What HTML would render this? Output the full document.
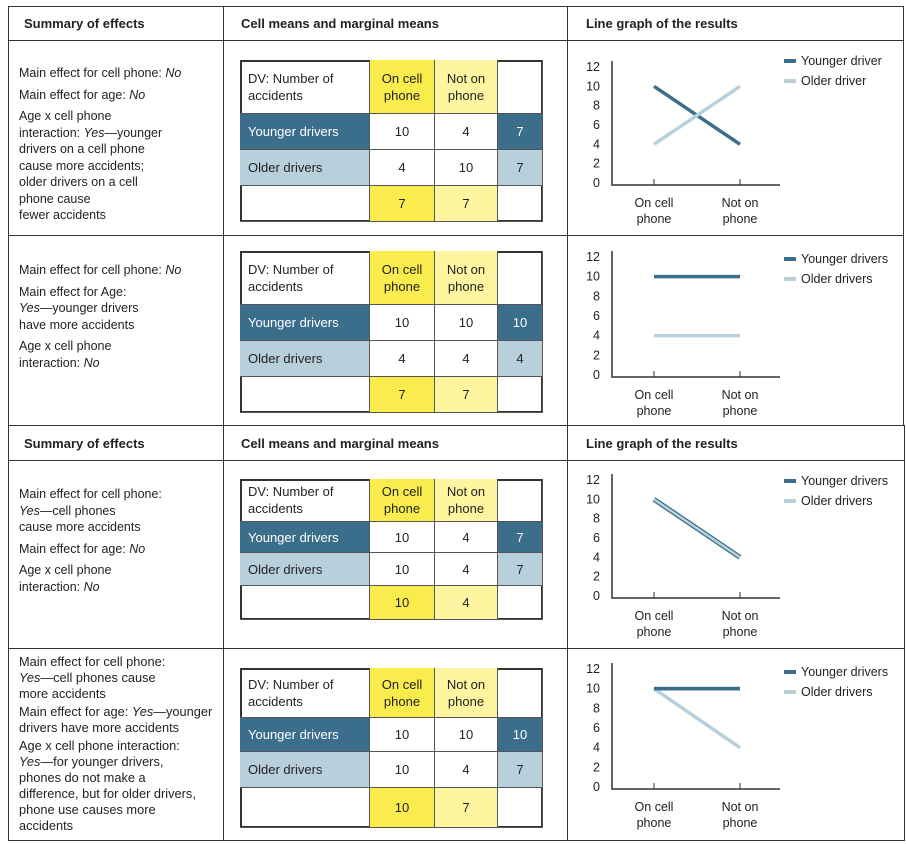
<!DOCTYPE html>
<html><head><meta charset="utf-8">
<style>
body{margin:0;width:906px;height:844px;background:#fff;font-family:"Liberation Sans",sans-serif;color:#222;position:relative;overflow:hidden}
.a{position:absolute}
.ln{position:absolute;background:#333}
.hd{position:absolute;font-weight:bold;font-size:13px}
.sum{position:absolute;left:19px;font-size:12.5px;line-height:16.5px;width:205px}
.sum p{margin:0 0 5px 0}
.s4{line-height:16px;font-size:12.8px;width:210px}
.s4 p{margin:0 0 2px 0}
.tb{position:absolute;border:2px solid #333;box-sizing:border-box}
.c{position:absolute;box-sizing:border-box;font-size:13px;display:flex;align-items:center;justify-content:center;text-align:center;border-right:1px solid #555;border-bottom:1px solid #555;line-height:17px}
.l{justify-content:flex-start;padding-left:8px;text-align:left}
.dk{background:#3b6e8a;color:#fff}.lt{background:#b8cfdc}.y1{background:#f9ec4c}.y2{background:#fdf5a0}
svg text{font-family:"Liberation Sans",sans-serif;font-size:12.5px;fill:#222}
</style></head><body>
<div class="ln" style="left:8px;top:6px;width:896px;height:1px"></div>
<div class="ln" style="left:8px;top:40px;width:896px;height:1px"></div>
<div class="ln" style="left:8px;top:235px;width:896px;height:1px"></div>
<div class="ln" style="left:8px;top:425px;width:897px;height:1px"></div>
<div class="ln" style="left:8px;top:460px;width:897px;height:1px"></div>
<div class="ln" style="left:8px;top:648px;width:897px;height:1px"></div>
<div class="ln" style="left:8px;top:840px;width:897px;height:1px"></div>
<div class="ln" style="left:8px;top:6px;width:1px;height:835px"></div>
<div class="ln" style="left:223px;top:6px;width:1px;height:835px"></div>
<div class="ln" style="left:567px;top:6px;width:1px;height:835px"></div>
<div class="ln" style="left:903px;top:6px;width:1px;height:420px"></div>
<div class="ln" style="left:904px;top:425px;width:1px;height:416px"></div>

<div class="hd" style="left:24px;top:16px">Summary of effects</div>
<div class="hd" style="left:241px;top:16px">Cell means and marginal means</div>
<div class="hd" style="left:586px;top:16px">Line graph of the results</div>
<div class="hd" style="left:24px;top:436px">Summary of effects</div>
<div class="hd" style="left:241px;top:436px">Cell means and marginal means</div>
<div class="hd" style="left:586px;top:436px">Line graph of the results</div>

<div class="sum" style="top:65px">
<p>Main effect for cell phone: <i>No</i></p><p>Main effect for age: <i>No</i></p>
<p>Age x cell phone<br>interaction: <i>Yes</i>—younger<br>drivers on a cell phone<br>cause more accidents;<br>older drivers on a cell<br>phone cause<br>fewer accidents</p></div>
<div class="sum" style="top:262px">
<p>Main effect for cell phone: <i>No</i></p><p>Main effect for Age:<br><i>Yes</i>—younger drivers<br>have more accidents</p><p>Age x cell phone<br>interaction: <i>No</i></p></div>
<div class="sum" style="top:486px">
<p>Main effect for cell phone:<br><i>Yes</i>—cell phones<br>cause more accidents</p><p>Main effect for age: <i>No</i></p><p>Age x cell phone<br>interaction: <i>No</i></p></div>
<div class="sum s4" style="top:654px">
<p>Main effect for cell phone:<br><i>Yes</i>—cell phones cause<br>more accidents</p><p>Main effect for age: <i>Yes</i>—younger<br>drivers have more accidents</p><p>Age x cell phone interaction:<br><i>Yes</i>—for younger drivers,<br>phones do not make a<br>difference, but for older drivers,<br>phone use causes more<br>accidents</p></div>

<div id="root"></div>
<script>
const panelYoung = [[10,4],[10,10],[10,4],[10,10]];
const panelOld = [[4,10],[4,4],[10,4],[10,4]];
const rowMargYoung = [7,10,7,10];
const rowMargOld = [7,4,7,7];
const colMarg = [[7,7],[7,7],[10,4],[10,7]];
const legendYoung = ["Younger driver","Younger drivers","Younger drivers","Younger drivers"];
const legendOld = ["Older driver","Older drivers","Older drivers","Older drivers"];
const yTicks = [0,2,4,6,8,10,12];
const categories = ["On cell|phone","Not on|phone"];

const tables = [[60,114,150,186,222],[251,305,341,377,413],[479,522,553,586,620],[668,718,752,788,828]];
const charts = [[67,183,61],[257,375,259],[480,596,481],[669,787,672]];
const xs=[240,370,435,498,543];
const root=document.getElementById('root');
function cell(x,y,w,h,cls,html,name){
  const d=document.createElement('div');d.className='c '+cls;
  d.style.cssText=`left:${x}px;top:${y}px;width:${w}px;height:${h}px`;
  d.innerHTML=html;
  
  
  root.appendChild(d);
}
for(let i=0;i<4;i++){
  const r=tables[i];
  const t=document.createElement('div');t.className='tb';
  t.style.cssText=`left:${xs[0]}px;top:${r[0]}px;width:${xs[4]-xs[0]}px;height:${r[4]-r[0]}px`;
  
  
  root.appendChild(t);
  const W=k=>xs[k+1]-xs[k], H=k=>r[k+1]-r[k];
  cell(xs[0],r[0],W(0),H(0),'l','DV: Number of<br>accidents','dv-label');
  cell(xs[1],r[0],W(1),H(0),'y1','On cell<br>phone','col-on-phone');
  cell(xs[2],r[0],W(2),H(0),'y2','Not on<br>phone','col-not-on-phone');
  cell(xs[3],r[0],W(3),H(0),'','','blank');
  cell(xs[0],r[1],W(0),H(1),'l dk','Younger drivers','row-younger');
  cell(xs[1],r[1],W(1),H(1),'',panelYoung[i][0],'cell-value');
  cell(xs[2],r[1],W(2),H(1),'',panelYoung[i][1],'cell-value');
  cell(xs[3],r[1],W(3),H(1),'dk',rowMargYoung[i],'row-marginal');
  cell(xs[0],r[2],W(0),H(2),'l lt','Older drivers','row-older');
  cell(xs[1],r[2],W(1),H(2),'',panelOld[i][0],'cell-value');
  cell(xs[2],r[2],W(2),H(2),'',panelOld[i][1],'cell-value');
  cell(xs[3],r[2],W(3),H(2),'lt',rowMargOld[i],'row-marginal');
  cell(xs[0],r[3],W(0),H(3),'','','blank');
  cell(xs[1],r[3],W(1),H(3),'y1',colMarg[i][0],'col-marginal');
  cell(xs[2],r[3],W(2),H(3),'y2',colMarg[i][1],'col-marginal');
  cell(xs[3],r[3],W(3),H(3),'','','blank');
}
const NS='http://www.w3.org/2000/svg';
const svg=document.createElementNS(NS,'svg');
svg.setAttribute('width','906');svg.setAttribute('height','844');
svg.style.cssText='position:absolute;left:0;top:0';


root.appendChild(svg);
function el(tag,attrs,txt){const e=document.createElementNS(NS,tag);for(const k in attrs)e.setAttribute(k,attrs[k]);if(txt!==undefined)e.textContent=txt;svg.appendChild(e);return e;}
const catX=[654,740];
for(let i=0;i<4;i++){
  const [y12,y0,ly]=charts[i];
  const yS=v=>y0-(v/12)*(y0-y12);
  const xS=k=>catX[k];
  const ax=el('path',{d:`M612 ${y12-6}V${y0+2}H780`,stroke:'#333','stroke-width':1.5,fill:'none'});
  
  
  yTicks.forEach(v=>{const t=el('text',{x:600,y:yS(v)+4,'text-anchor':'end'},v);
    
    });
  categories.forEach((c,k)=>{
    el('line',{x1:xS(k),x2:xS(k),y1:y0-4,y2:y0+2,stroke:'#333'});
    const p=c.split('|');
    const t1=el('text',{x:xS(k),y:y0+24,'text-anchor':'middle'},p[0]);
    
    
    const t2=el('text',{x:xS(k),y:y0+40,'text-anchor':'middle'},p[1]);
    
    
  });
  const ly2=el('line',{x1:xS(0),y1:yS(panelYoung[i][0]),x2:xS(1),y2:yS(panelYoung[i][1]),stroke:'#3b6e8a','stroke-width':i==2?5:3.5});
  
  
  const lo=el('line',{x1:xS(0),y1:yS(panelOld[i][0]),x2:xS(1),y2:yS(panelOld[i][1]),stroke:'#b8cfdc','stroke-width':i==2?2.5:3.5});
  
  
  if(i==3){const y3=el('line',{x1:xS(0),y1:yS(panelYoung[i][0]),x2:xS(1),y2:yS(panelYoung[i][1]),stroke:'#3b6e8a','stroke-width':3.5});
    
    }
  el('rect',{x:784,y:ly-2,width:12,height:4,fill:'#3b6e8a'});
  const a=el('text',{x:801,y:ly+4,'font-size':'13'},legendYoung[i]);
  
  
  el('rect',{x:784,y:ly+18,width:12,height:4,fill:'#b8cfdc'});
  const b=el('text',{x:801,y:ly+24,'font-size':'13'},legendOld[i]);
  
  
}
</script>
</body></html>
